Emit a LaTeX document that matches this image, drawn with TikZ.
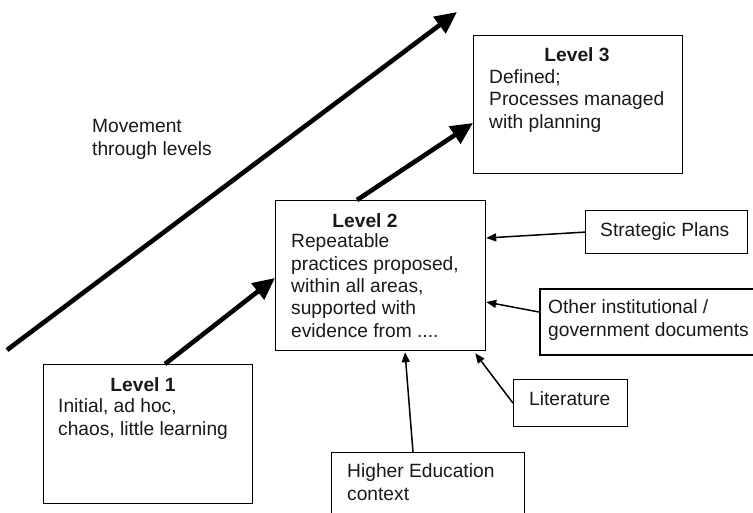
\documentclass[tikz,border=0pt]{standalone}
\usepackage{fontspec}
\setmainfont{Liberation Sans}
\usetikzlibrary{arrows.meta}
\begin{document}
\begin{tikzpicture}[x=1pt,y=-1pt,
  box/.style={draw=black, line width=1.2pt, inner sep=0pt, anchor=north west},
  % multi-line texts are placed by the baseline of their last line
  txt/.style={inner sep=0pt, anchor=base west, align=left,
    font=\fontsize{19.2}{22.3}\selectfont, text=black!90},
  title/.style={inner sep=0pt, anchor=base,
    font=\fontsize{19.2}{22.3}\selectfont\bfseries, text=black!90},
  bigarrow/.style={line width=4.6pt, -{Triangle[length=22pt,width=20pt]}},
  thinarrow/.style={line width=1.5pt, -{Triangle[length=10pt,width=8pt]}}]
\useasboundingbox (0,0) rectangle (753,512);

% boxes
\node[box, minimum width=209pt, minimum height=139pt] (l1) at (43,364) {};
\node[box, minimum width=210pt, minimum height=150pt] (l2) at (275,200) {};
\node[box, minimum width=209pt, minimum height=138pt] (l3) at (473,35) {};
\node[box, minimum width=162pt, minimum height=43pt] (sp) at (585,210) {};
\node[box, line width=1.8pt, minimum width=230pt, minimum height=66pt] (oth) at (539,288) {};
\node[box, minimum width=114pt, minimum height=47pt] (lit) at (513,379) {};
\node[box, minimum width=193pt, minimum height=80pt] (he) at (331,452) {};

% texts
\node[title] (l1t) at (143,391) {Level 1};
\node[txt] (l1b) at (58,435) {Initial, ad hoc,\\chaos, little learning};
\node[title] (l2t) at (365,227) {Level 2};
\node[txt] (l2b) at (291,337) {Repeatable\\practices proposed,\\within all areas,\\supported with\\evidence from ....};
\node[title] (l3t) at (577,61) {Level 3};
\node[txt] (l3b) at (489,128) {Defined;\\Processes managed\\with planning};
\node[txt] (mvt) at (92,155) {Movement\\through levels};
\node[txt] (spt) at (600,236) {Strategic Plans};
\node[txt] (otht) at (548,336) {Other institutional /\\government documents};
\node[txt] (litt) at (529,405) {Literature};
\node[txt] (het) at (347,500) {Higher Education\\context};

% movement through the levels
\coordinate (mvs) at (7,350);
\coordinate (mve) at (457,12);
\draw[bigarrow] (mvs) -- (mve);
\draw[bigarrow] ([xshift=122pt]l1.north west) -- ([yshift=-78pt]l2.north west);
\draw[bigarrow] ([xshift=82pt]l2.north west) -- ([yshift=-88pt]l3.north west);

% inputs into level 2
\draw[thinarrow] (sp.west) -- ([yshift=-38pt]l2.north east);
\draw[thinarrow] ([yshift=-24pt]oth.north west) -- ([yshift=-102pt]l2.north east);
\draw[thinarrow] (lit.west) -- ([xshift=-11pt,yshift=-2pt]l2.south east);
\draw[thinarrow] ([xshift=82pt]he.north west) -- ([xshift=130pt,yshift=-1pt]l2.south west);
\end{tikzpicture}
\end{document}
